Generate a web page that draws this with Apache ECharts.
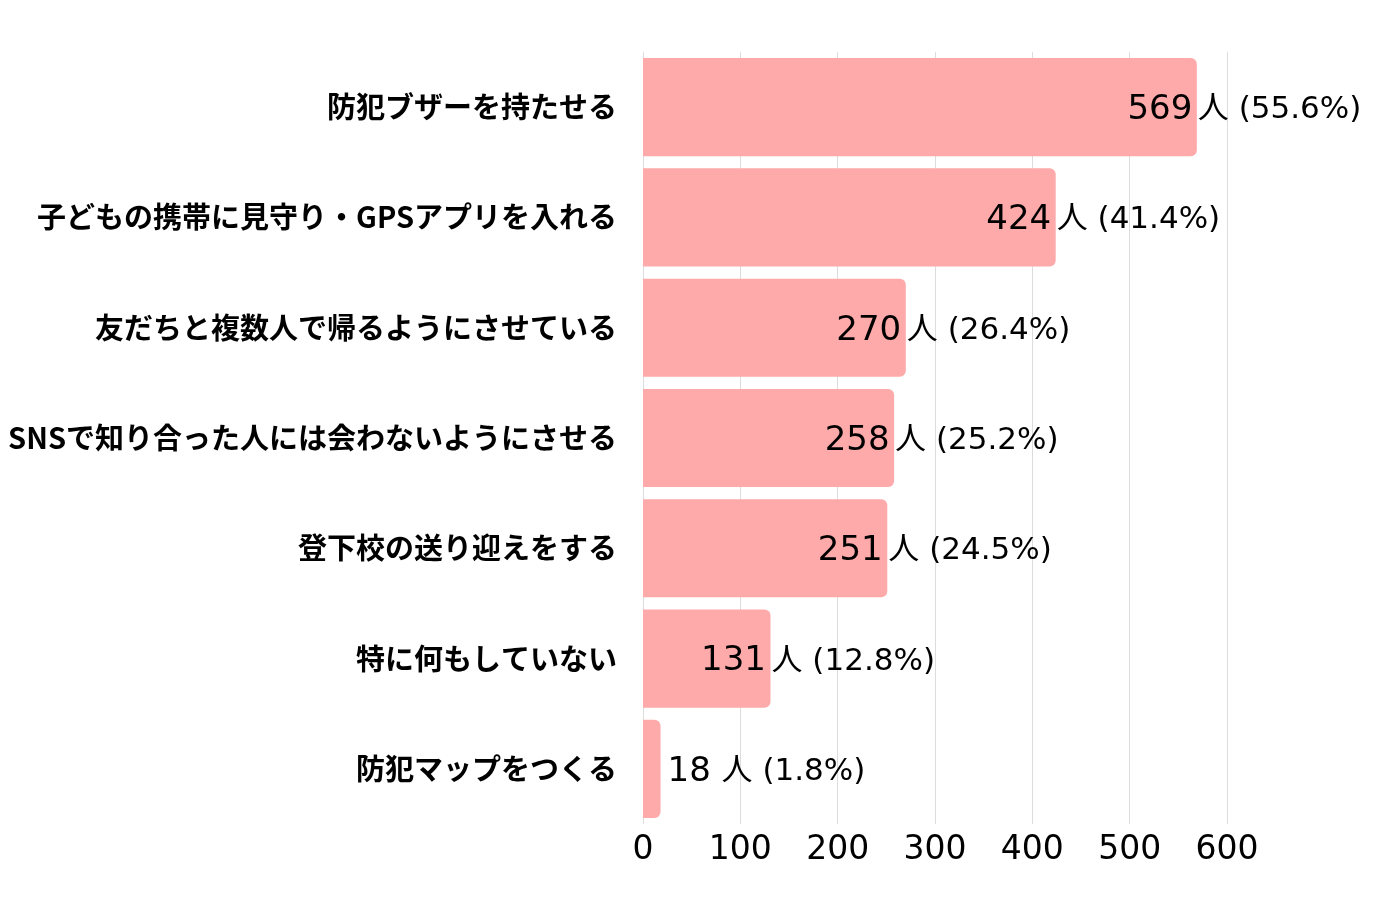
<!DOCTYPE html>
<html lang="ja">
<head>
<meta charset="UTF-8">
<title>防犯対策</title>
<script src="https://cdn.jsdelivr.net/npm/echarts@6/dist/echarts.min.js"></script>
<style>
  html, body { margin: 0; padding: 0; background: #fff; }
  #chart { width: 1380px; height: 920px; }
</style>
</head>
<body>
<div id="chart"></div>
<script>
// 項目（上から順）
var categories = [
    '防犯ブザーを持たせる',
    '子どもの携帯に見守り・GPSアプリを入れる',
    '友だちと複数人で帰るようにさせている',
    'SNSで知り合った人には会わないようにさせる',
    '登下校の送り迎えをする',
    '特に何もしていない',
    '防犯マップをつくる'
];
// 人数
var counts = [569, 424, 270, 258, 251, 131, 18];
// 割合（%）
var percents = ['55.6', '41.4', '26.4', '25.2', '24.5', '12.8', '1.8'];
// x軸目盛
var xTicks = [0, 100, 200, 300, 400, 500, 600];

var chart = echarts.init(document.getElementById('chart'));

var barData = counts.map(function (v, i) {
    var item = { value: v };
    if (v < 50) {
        // 小さい棒はラベルを外側に出す
        item.label = { offset: [2, 3] };
    }
    return item;
});

var numFont = '"DejaVu Sans", "Noto Sans CJK JP", sans-serif';

var option = {
    animation: false,
    textStyle: { fontFamily: numFont, color: '#000' },
    grid: { left: 643, right: 153, top: 52, bottom: 96, outerBoundsMode: 'none', containLabel: false },
    xAxis: {
        type: 'value',
        min: xTicks[0],
        max: xTicks[xTicks.length - 1],
        interval: 100,
        axisLine: { show: false },
        axisTick: { show: false },
        splitLine: { lineStyle: { color: '#dcdcdc', width: 1 } },
        axisLabel: { fontSize: 33, color: '#000', margin: 10, fontFamily: numFont }
    },
    yAxis: {
        type: 'category',
        data: categories,
        inverse: true,
        axisLine: { show: false },
        axisTick: { show: false },
        axisLabel: {
            fontSize: 29,
            fontWeight: 'bold',
            color: '#000',
            margin: 26,
            fontFamily: '"Noto Sans CJK JP", sans-serif'
        }
    },
    series: [{
        type: 'bar',
        data: barData,
        barCategoryGap: '11%',
        itemStyle: { color: '#ffaaaa', borderRadius: [0, 6, 6, 0] },
        label: {
            show: true,
            position: 'right',
            offset: [-74, 3],
            formatter: function (p) {
                var i = p.dataIndex;
                if (counts[i] < 50) {
                    return '{s|' + counts[i] + ' }{v|人 (' + percents[i] + '%)}';
                }
                return '{n|' + counts[i] + '}{u|人 (' + percents[i] + '%)}';
            },
            rich: {
                n: { fontSize: 34, color: '#000', width: 64, align: 'right', fontFamily: numFont },
                s: { fontSize: 34, color: '#000', fontFamily: numFont },
                u: { fontSize: 31, color: '#000', padding: [0, 0, 0, 6], fontFamily: numFont },
                v: { fontSize: 31, color: '#000', fontFamily: numFont }
            }
        }
    }]
};

chart.setOption(option);
</script>
</body>
</html>
